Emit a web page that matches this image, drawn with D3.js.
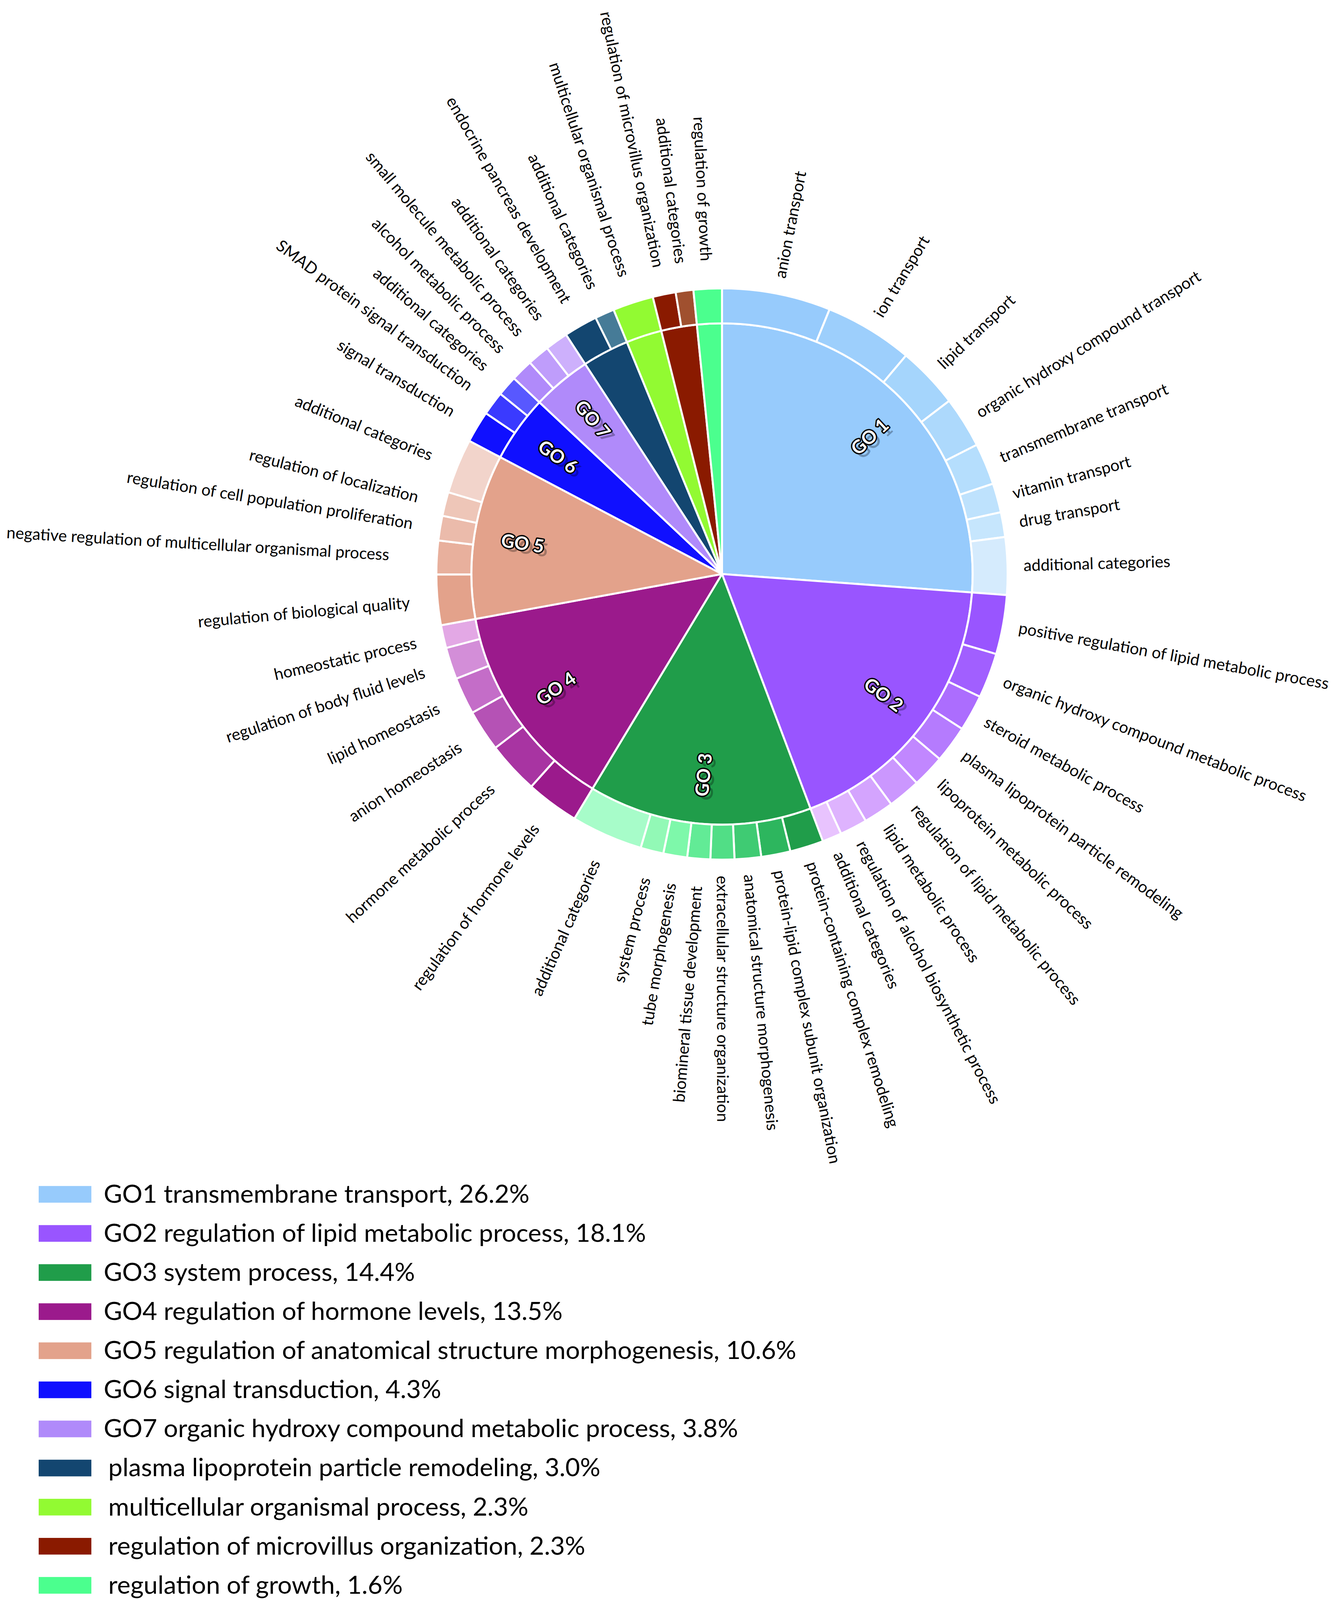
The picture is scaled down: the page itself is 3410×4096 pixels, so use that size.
<!DOCTYPE html>
<html>
<head>
<meta charset="utf-8">
<script src="https://d3js.org/d3.v7.min.js"></script>
<style>
  body { margin: 0; background: #fff; }
  text { font-family: Lato, "Open Sans", sans-serif; }
</style>
</head>
<body>
<div id="chart"></div>
<script>
const groupNames = [
    "GO1 transmembrane transport, 26.2%",
    "GO2 regulation of lipid metabolic process, 18.1%",
    "GO3 system process, 14.4%",
    "GO4 regulation of hormone levels, 13.5%",
    "GO5 regulation of anatomical structure morphogenesis, 10.6%",
    "GO6 signal transduction, 4.3%",
    "GO7 organic hydroxy compound metabolic process, 3.8%",
    "plasma lipoprotein particle remodeling, 3.0%",
    "multicellular organismal process, 2.3%",
    "regulation of microvillus organization, 2.3%",
    "regulation of growth, 1.6%"
];
const groupValues = [26.2, 18.1, 14.4, 13.5, 10.6, 4.3, 3.8, 3.0, 2.3, 2.3, 1.6];
const groupTags = ["GO 1", "GO 2", "GO 3", "GO 4", "GO 5", "GO 6", "GO 7", "", "", "", ""];

const subLabels = [
    ["anion transport", "ion transport", "lipid transport", "organic hydroxy compound transport",
     "transmembrane transport", "vitamin transport", "drug transport", "additional categories"],
    ["positive regulation of lipid metabolic process", "organic hydroxy compound metabolic process",
     "steroid metabolic process", "plasma lipoprotein particle remodeling", "lipoprotein metabolic process",
     "regulation of lipid metabolic process", "lipid metabolic process",
     "regulation of alcohol biosynthetic process", "additional categories"],
    ["protein-containing complex remodeling", "protein-lipid complex subunit organization",
     "anatomical structure morphogenesis", "extracellular structure organization",
     "biomineral tissue development", "tube morphogenesis", "system process", "additional categories"],
    ["regulation of hormone levels", "hormone metabolic process", "anion homeostasis",
     "lipid homeostasis", "regulation of body fluid levels", "homeostatic process"],
    ["regulation of biological quality", "negative regulation of multicellular organismal process",
     "regulation of cell population proliferation", "regulation of localization", "additional categories"],
    ["signal transduction", "SMAD protein signal transduction", "additional categories"],
    ["alcohol metabolic process", "small molecule metabolic process", "additional categories"],
    ["endocrine pancreas development", "additional categories"],
    ["multicellular organismal process"],
    ["regulation of microvillus organization", "additional categories"],
    ["regulation of growth"]
];
const subValues = [
    [6.15, 5.0, 3.5, 2.9, 2.35, 1.65, 1.4, 3.25],
    [3.35, 2.55, 2.05, 2.1, 1.85, 1.85, 1.7, 1.55, 1.1],
    [1.9, 1.65, 1.5, 1.35, 1.3, 1.35, 1.3, 4.05],
    [3.0, 2.95, 2.35, 2.1, 1.8, 1.3],
    [2.85, 1.9, 1.4, 1.35, 3.1],
    [1.8, 1.35, 1.15],
    [1.25, 1.25, 1.3],
    [1.9, 1.1],
    [2.3],
    [1.3, 1.0],
    [1.6]
];

const groupColors = ["#97cbfc", "#9955ff", "#209d4a", "#9b1a8c", "#e3a28b", "#1010ff",
                     "#b08afa", "#134670", "#92fa32", "#8a1a00", "#4bff8e"];
const ringColors = [
    ["#97cbfc", "#9dcffc", "#a5d5fc", "#add9fc", "#b5defd", "#bee2fd", "#c6e6fd", "#d5ebfd"],
    ["#9955ff", "#a15fff", "#ac6dfe", "#b57bfe", "#c187ff", "#cb97fe", "#d4a4fe", "#deb3fe", "#e8c3fe"],
    ["#209d4a", "#2db65e", "#3fcb73", "#51de86", "#62eb96", "#7ef8aa", "#92f9b6", "#a7fcc9"],
    ["#9b1a8c", "#a834a2", "#b552b5", "#c46dc8", "#d38ed8", "#e3a8e5"],
    ["#e3a28b", "#e8b09d", "#ebbbab", "#eec6b8", "#f2d4cb"],
    ["#1010ff", "#3a3aff", "#5858ff"],
    ["#b08afa", "#bf9dfb", "#cdb0fc"],
    ["#134670", "#467b97"],
    ["#92fa32"],
    ["#8a1a00", "#a0502f"],
    ["#4bff8e"]
];

// a label pushed further out in the original to clear its neighbour
const labelPush = { "negative regulation of multicellular organismal process": 60 };

function createSunburst(container) {
    const width = 3996;
    const height = 4800;
    const cx = 2166, cy = 1722;
    const innerR = 752, ringR = 857;

    const svg = d3.select(container)
        .append("svg")
        .attr("width", 3410)
        .attr("height", 4096)
        .attr("viewBox", `0 0 ${width} ${height}`);

    const g = svg.append("g").attr("transform", `translate(${cx},${cy})`);

    const groupArcs = d3.pie().sort(null)(groupValues);
    const innerArc = d3.arc().innerRadius(0).outerRadius(innerR);
    const ringArc = d3.arc().innerRadius(innerR).outerRadius(ringR);

    // outer ring: each group slice split by its subcategories
    const ringData = [];
    groupArcs.forEach((ga, i) => {
        d3.pie().sort(null).startAngle(ga.startAngle).endAngle(ga.endAngle)(subValues[i])
            .forEach((sa, j) => {
                ringData.push(Object.assign(sa, {
                    label: subLabels[i][j],
                    fill: ringColors[i][j]
                }));
            });
    });

    g.selectAll(".slice")
        .data(groupArcs)
        .enter().append("path")
        .attr("class", "slice")
        .attr("d", innerArc)
        .attr("fill", (d, i) => groupColors[i])
        .attr("stroke", "#fff")
        .attr("stroke-width", 6)
        .attr("stroke-linejoin", "round");

    g.selectAll(".ring")
        .data(ringData)
        .enter().append("path")
        .attr("class", "ring")
        .attr("d", ringArc)
        .attr("fill", d => d.fill)
        .attr("stroke", "#fff")
        .attr("stroke-width", 6);

    const midDeg = d => (d.startAngle + d.endAngle) / 2 * 180 / Math.PI;

    g.selectAll(".sub-label")
        .data(ringData)
        .enter().append("text")
        .attr("class", "sub-label")
        .attr("transform", d => {
            const a = midDeg(d);
            const push = labelPush[d.label] || 0;
            return a < 181 ? `rotate(${a - 90}) translate(${905 + push},0)`
                           : `rotate(${a + 90}) translate(${-940 - push},0)`;
        })
        .attr("text-anchor", d => midDeg(d) < 181 ? "start" : "end")
        .attr("dy", "0.35em")
        .attr("font-size", 48.5)
        .attr("fill", "#000")
        .text(d => d.label);

    // GO tags inside the big slices, with a soft shadow
    const tagData = groupArcs.map((d, i) => Object.assign({}, d, { tag: groupTags[i] })).filter(d => d.tag);
    const tagTransform = d => {
        const a = midDeg(d);
        return a < 180 ? `rotate(${a - 90}) translate(605,0)` : `rotate(${a + 90}) translate(-605,0)`;
    };

    g.append("g").attr("transform", "translate(12,12)")
        .selectAll("text")
        .data(tagData)
        .enter().append("text")
        .attr("transform", tagTransform)
        .attr("text-anchor", "middle")
        .attr("dy", "0.35em")
        .attr("font-family", "'DejaVu Sans', sans-serif")
        .attr("font-weight", "bold")
        .attr("font-size", 55)
        .attr("fill", "#000")
        .attr("fill-opacity", 0.3)
        .text(d => d.tag);

    g.append("g")
        .selectAll("text")
        .data(tagData)
        .enter().append("text")
        .attr("transform", tagTransform)
        .attr("text-anchor", "middle")
        .attr("dy", "0.35em")
        .attr("font-family", "'DejaVu Sans', sans-serif")
        .attr("font-weight", "bold")
        .attr("font-size", 55)
        .attr("fill", "#fff")
        .attr("stroke", "#000")
        .attr("stroke-width", 8)
        .attr("stroke-linejoin", "round")
        .attr("paint-order", "stroke")
        .text(d => d.tag);

    // legend
    const rowY = d3.scaleLinear().domain([0, groupNames.length - 1]).range([3558, 4731]);
    const legend = svg.append("g");

    legend.selectAll("rect")
        .data(groupNames)
        .enter().append("rect")
        .attr("x", 116)
        .attr("y", (d, i) => rowY(i))
        .attr("width", 158)
        .attr("height", 50)
        .attr("fill", (d, i) => groupColors[i]);

    legend.selectAll("text")
        .data(groupNames)
        .enter().append("text")
        .attr("x", (d, i) => i < 7 ? 311 : 325)
        .attr("y", (d, i) => rowY(i) + 50)
        .attr("font-size", 76)
        .attr("fill", "#000")
        .text(d => d);
}

createSunburst("#chart");
</script>
</body>
</html>
